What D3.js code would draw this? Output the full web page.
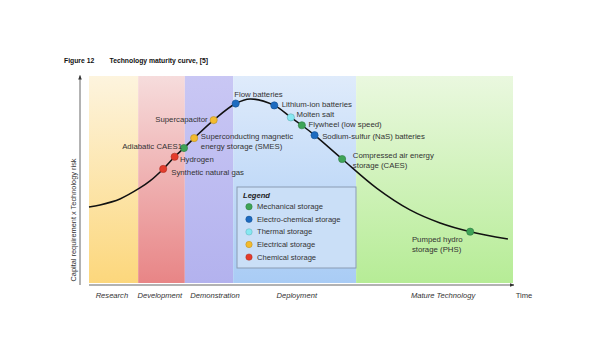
<!DOCTYPE html>
<html>
<head>
<meta charset="utf-8">
<script src="https://cdn.jsdelivr.net/npm/d3@7"></script>
<style>
  body { margin: 0; background: #fff; }
  text { font-family: "Liberation Sans", Arial, sans-serif; fill: #333; }
</style>
</head>
<body>
<div id="chart"></div>
<script>
// phases along the time axis (time units 0-100)
var phases = ["Research", "Development", "Demonstration", "Deployment", "Mature Technology"];
var phaseStart = [0, 11.6, 22.6, 34, 63];
var phaseEnd = [11.6, 22.6, 34, 63, 100];
var phaseLabelAt = [5.4, 16.7, 29.7, 49, 83.5];
var phaseTop = ["#fdf4de", "#f6dcdc", "#c9c7f4", "#dfebfb", "#eaf8df"];
var phaseBottom = ["#fcd77c", "#e88586", "#b3b2ee", "#a9ccf5", "#b6ec96"];

// curve shape points (time, capital x risk) between the technologies
var curveX = [0, 2.6, 7.3, 12, 14.4, 38, 67.9, 75.7, 82.8, 98.8];
var curveY = [36.7, 37.7, 40.6, 45.9, 49.3, 88.9, 45.7, 35.3, 29, 21.3];

// technologies on the curve
var techNames = ["Synthetic natural gas", "Hydrogen", "Adiabatic CAES", "Superconducting magnetic|energy storage (SMES)",
  "Supercapacitor", "Flow batteries", "Lithium-ion batteries", "Molten salt", "Flywheel (low speed)",
  "Sodium-sulfur (NaS) batteries", "Compressed air energy|storage (CAES)", "Pumped hydro|storage (PHS)"];
var techX = [17.5, 20.2, 22.4, 24.8, 29.4, 34.6, 43.7, 47.6, 50.2, 53.2, 59.7, 89.9];
var techY = [55.1, 61, 65.2, 70, 78.7, 86.7, 85.8, 80, 76.2, 71.4, 59.9, 24.8];
var techType = ["Chemical", "Chemical", "Mechanical", "Electrical", "Electrical", "Electro-chemical",
  "Electro-chemical", "Thermal", "Mechanical", "Electro-chemical", "Mechanical", "Mechanical"];

var storageTypes = ["Mechanical", "Electro-chemical", "Thermal", "Electrical", "Chemical"];
var storageColors = ["#3ea457", "#1d6bc0", "#86e8f2", "#f3bb2e", "#e43c2c"];

// label placement relative to the marker: dx, dy, anchor
var labelPos = {
  "Synthetic natural gas": [8, 2.7, "start"],
  "Hydrogen": [5.3, 2.3, "start"],
  "Adiabatic CAES": [-2, -1.7, "end"],
  "Superconducting magnetic|energy storage (SMES)": [6.7, -2.5, "start"],
  "Supercapacitor": [-6, -1, "end"],
  "Flow batteries": [-1.5, -10, "start"],
  "Lithium-ion batteries": [7.4, -1.3, "start"],
  "Molten salt": [5.7, -3.6, "start"],
  "Flywheel (low speed)": [6.6, -1, "start"],
  "Sodium-sulfur (NaS) batteries": [7.6, 0.4, "start"],
  "Compressed air energy|storage (CAES)": [10.7, -4, "start"],
  "Pumped hydro|storage (PHS)": [-58.3, 7.3, "start"]
};

var W = 596, H = 358;
var svg = d3.select("#chart").append("svg")
  .attr("width", W).attr("height", H);

var x = d3.scaleLinear().domain([0, 100]).range([89, 513]);
var y = d3.scaleLinear().domain([0, 100]).range([283, 76]);
var color = d3.scaleOrdinal().domain(storageTypes).range(storageColors);

// title
svg.append("text").attr("x", 64).attr("y", 60.5).attr("dominant-baseline", "central")
  .style("font-size", "6.8px").style("font-weight", "bold").style("fill", "#111").text("Figure 12");
svg.append("text").attr("x", 109.5).attr("y", 60.5).attr("dominant-baseline", "central")
  .style("font-size", "6.8px").style("font-weight", "bold").style("fill", "#111")
  .text("Technology maturity curve, [5]");

// gradients for the phase bands
var defs = svg.append("defs");
phases.forEach(function (p, i) {
  var g = defs.append("linearGradient").attr("id", "grad" + i)
    .attr("x1", 0).attr("y1", 0).attr("x2", 0).attr("y2", 1);
  g.append("stop").attr("offset", "0%").attr("stop-color", phaseTop[i]);
  g.append("stop").attr("offset", "100%").attr("stop-color", phaseBottom[i]);
});

svg.append("g").selectAll("rect")
  .data(phases)
  .enter()
  .append("rect")
  .attr("x", function (d, i) { return x(phaseStart[i]); })
  .attr("width", function (d, i) { return x(phaseEnd[i]) - x(phaseStart[i]); })
  .attr("y", y(100))
  .attr("height", y(0) - y(100))
  .attr("fill", function (d, i) { return "url(#grad" + i + ")"; });

// axes with arrows
defs.append("marker").attr("id", "arrow").attr("viewBox", "0 0 10 10")
  .attr("refX", 9).attr("refY", 5).attr("markerWidth", 5).attr("markerHeight", 5)
  .attr("orient", "auto")
  .append("path").attr("d", "M0,1 L10,5 L0,9 z").attr("fill", "#333");

svg.append("line").attr("x1", 80).attr("x2", 80).attr("y1", 285).attr("y2", 75.5)
  .attr("stroke", "#555").attr("stroke-width", 0.9).attr("marker-end", "url(#arrow)");
svg.append("line").attr("x1", 89).attr("x2", 514).attr("y1", 285).attr("y2", 285)
  .attr("stroke", "#555").attr("stroke-width", 0.9).attr("marker-end", "url(#arrow)");

svg.append("text")
  .attr("transform", "translate(73,220) rotate(-90)")
  .attr("text-anchor", "middle").attr("dominant-baseline", "central")
  .style("font-size", "7.4px")
  .text("Capital requirement x Technology risk");

svg.append("g").selectAll("text")
  .data(phases)
  .enter()
  .append("text")
  .attr("x", function (d, i) { return x(phaseLabelAt[i]); })
  .attr("y", 295.5)
  .attr("text-anchor", "middle").attr("dominant-baseline", "central")
  .style("font-size", "7.6px").style("font-style", "italic")
  .text(function (d) { return d; });

svg.append("text").attr("x", 524).attr("y", 295.5)
  .attr("text-anchor", "middle").attr("dominant-baseline", "central")
  .style("font-size", "7.6px").text("Time");

// the maturity curve passes through shape points and technology points
var pts = [];
curveX.forEach(function (v, i) { pts.push([v, curveY[i]]); });
techX.forEach(function (v, i) { pts.push([v, techY[i]]); });
pts.sort(function (a, b) { return a[0] - b[0]; });

svg.append("path")
  .datum(pts)
  .attr("d", d3.line()
    .x(function (d) { return x(d[0]); })
    .y(function (d) { return y(d[1]); })
    .curve(d3.curveCatmullRom.alpha(0.5)))
  .attr("fill", "none")
  .attr("stroke", "#111")
  .attr("stroke-width", 1.5);

// technology markers
svg.append("g").selectAll("circle")
  .data(techNames)
  .enter()
  .append("circle")
  .attr("cx", function (d, i) { return x(techX[i]); })
  .attr("cy", function (d, i) { return y(techY[i]); })
  .attr("r", 3.6)
  .attr("fill", function (d, i) { return color(techType[i]); })
  .attr("stroke", function (d, i) { return d3.color(color(techType[i])).darker(0.8); })
  .attr("stroke-width", 0.6);

// technology labels
var labels = svg.append("g").selectAll("text")
  .data(techNames)
  .enter()
  .append("text")
  .attr("x", function (d, i) { return x(techX[i]) + labelPos[d][0]; })
  .attr("y", function (d, i) { return y(techY[i]) + labelPos[d][1]; })
  .attr("text-anchor", function (d) { return labelPos[d][2]; })
  .attr("dominant-baseline", "central")
  .style("font-size", "7.8px");

labels.each(function (d, i) {
  var t = d3.select(this);
  var lines = d.split("|");
  var px = x(techX[i]) + labelPos[d][0];
  lines.forEach(function (ln, k) {
    t.append("tspan").attr("x", px).attr("dy", k === 0 ? 0 : "1.3em").text(ln);
  });
  if (d === "Adiabatic CAES") t.append("tspan").text("1");
});

// legend
var lg = svg.append("g").attr("transform", "translate(237,187)");
lg.append("rect").attr("width", 119).attr("height", 81)
  .attr("fill", "#cadff7").attr("stroke", "#8a9bb3").attr("stroke-width", 1);
lg.append("text").attr("x", 6).attr("y", 8).attr("dominant-baseline", "central")
  .style("font-size", "7.6px").style("font-weight", "bold").style("font-style", "italic")
  .style("fill", "#222").text("Legend");
var items = lg.selectAll(".item")
  .data(storageTypes)
  .enter()
  .append("g")
  .attr("class", "item")
  .attr("transform", function (d, i) { return "translate(12," + (19.7 + i * 12.6) + ")"; });
items.append("circle").attr("r", 3.2)
  .attr("fill", function (d) { return color(d); })
  .attr("stroke", function (d) { return d3.color(color(d)).darker(0.8); })
  .attr("stroke-width", 0.5);
items.append("text").attr("x", 8).attr("dominant-baseline", "central")
  .style("font-size", "7.6px")
  .text(function (d) { return d + " storage"; });
</script>
</body>
</html>
